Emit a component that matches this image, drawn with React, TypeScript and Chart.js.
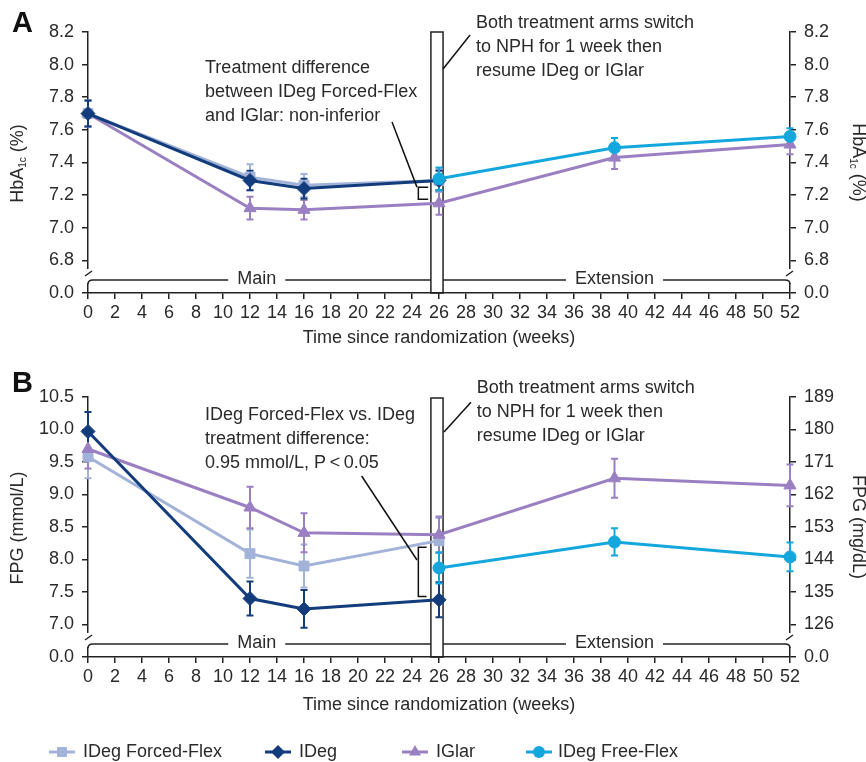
import React, { useEffect, useRef } from 'react';
import { Chart, registerables } from 'chart.js';

Chart.register(...registerables);

const FF = '"Liberation Sans", Arial, Helvetica, sans-serif';
const TXT = '#2a2a2a';
const AXIS = '#222222';

// ---------- data ----------
const weeksMain = [0, 12, 16, 26];
const weeksIGlar = [0, 12, 16, 26, 39, 52];
const weeksFreeFlex = [26, 39, 52];
const xTickValues = [0, 2, 4, 6, 8, 10, 12, 14, 16, 18, 20, 22, 24, 26, 28, 30, 32, 34, 36, 38, 40, 42, 44, 46, 48, 50, 52];

const hba1cTickValues = [6.6, 6.8, 7.0, 7.2, 7.4, 7.6, 7.8, 8.0, 8.2];
const hba1cTickLabels = ['0.0', '6.8', '7.0', '7.2', '7.4', '7.6', '7.8', '8.0', '8.2'];
const fpgTickValues = [6.5, 7.0, 7.5, 8.0, 8.5, 9.0, 9.5, 10.0, 10.5];
const fpgTickLabels = ['0.0', '7.0', '7.5', '8.0', '8.5', '9.0', '9.5', '10.0', '10.5'];
const fpgMgTickLabels = ['0.0', '126', '135', '144', '153', '162', '171', '180', '189'];

const hba1cForcedFlex = [7.70, 7.31, 7.26, 7.29];
const hba1cForcedFlexErr = [0.08, 0.08, 0.07, 0.07];
const hba1cIDeg = [7.70, 7.29, 7.24, 7.29];
const hba1cIDegErr = [0.08, 0.06, 0.06, 0.06];
const hba1cIGlar = [7.70, 7.12, 7.11, 7.15, 7.43, 7.51];
const hba1cIGlarErr = [0.08, 0.07, 0.06, 0.07, 0.07, 0.06];
const hba1cFreeFlex = [7.30, 7.49, 7.56];
const hba1cFreeFlexErr = [0.07, 0.06, 0.05];

const fpgForcedFlex = [9.58, 8.09, 7.90, 8.29];
const fpgForcedFlexErr = [0.33, 0.37, 0.33, 0.35];
const fpgIDeg = [9.97, 7.40, 7.24, 7.38];
const fpgIDegErr = [0.30, 0.26, 0.29, 0.27];
const fpgIGlar = [9.70, 8.80, 8.41, 8.38, 9.25, 9.14];
const fpgIGlarErr = [0.30, 0.32, 0.30, 0.28, 0.30, 0.32];
const fpgFreeFlex = [7.87, 8.27, 8.04];
const fpgFreeFlexErr = [0.24, 0.21, 0.22];

const seriesNames = ['IDeg Forced-Flex', 'IDeg', 'IGlar', 'IDeg Free-Flex'];
const seriesColors = ['#a2b2d8', '#123c7c', '#9a80c2', '#14a7dd'];
const seriesStyles = ['rect', 'rectRot', 'triangle', 'circle'];
const seriesRadius = [7, 7, 7, 6];

const switchStart = 25.4;
const switchEnd = 26.3;

// ---------- helpers ----------
function makeDataset(idx: number, weeks: number[], values: number[], errors: number[]) {
  const c = seriesColors[idx];
  return {
    label: seriesNames[idx],
    data: weeks.map((w, i) => ({ x: w, y: values[i] })),
    errors,
    yAxisID: 'y',
    borderColor: c,
    backgroundColor: c,
    pointBackgroundColor: c,
    pointBorderColor: c,
    pointStyle: seriesStyles[idx],
    pointRadius: seriesRadius[idx],
    pointHoverRadius: seriesRadius[idx],
    pointBorderWidth: 1,
    borderWidth: 3,
    tension: 0,
    clip: false,
  };
}

function drawMarker(ctx: CanvasRenderingContext2D, style: string, x: number, y: number, r: number, color: string) {
  ctx.save();
  ctx.fillStyle = color;
  ctx.beginPath();
  if (style === 'rect') {
    const s = r * Math.SQRT1_2;
    ctx.rect(x - s, y - s, 2 * s, 2 * s);
  } else if (style === 'rectRot') {
    ctx.moveTo(x, y - r);
    ctx.lineTo(x + r, y);
    ctx.lineTo(x, y + r);
    ctx.lineTo(x - r, y);
    ctx.closePath();
  } else if (style === 'triangle') {
    for (let k = 0; k < 3; k++) {
      const a = (k * 2 * Math.PI) / 3;
      const px = x + Math.sin(a) * r;
      const py = y - Math.cos(a) * r;
      if (k === 0) ctx.moveTo(px, py); else ctx.lineTo(px, py);
    }
    ctx.closePath();
  } else {
    ctx.arc(x, y, r, 0, Math.PI * 2);
  }
  ctx.fill();
  ctx.restore();
}

type Part = [string, number];

function drawRotatedTitle(ctx: CanvasRenderingContext2D, parts: Part[], cx: number, cy: number, angle: number) {
  ctx.save();
  ctx.translate(cx, cy);
  ctx.rotate(angle);
  ctx.fillStyle = TXT;
  ctx.textBaseline = 'middle';
  ctx.textAlign = 'left';
  let total = 0;
  for (const [t, sub] of parts) {
    ctx.font = `${sub ? 10 : 18}px ${FF}`;
    total += ctx.measureText(t).width;
  }
  let x = -total / 2;
  for (const [t, sub] of parts) {
    ctx.font = `${sub ? 10 : 18}px ${FF}`;
    ctx.fillText(t, x, sub ? 5 : 0);
    x += ctx.measureText(t).width;
  }
  ctx.restore();
}

function line(ctx: CanvasRenderingContext2D, x1: number, y1: number, x2: number, y2: number) {
  ctx.beginPath();
  ctx.moveTo(x1, y1);
  ctx.lineTo(x2, y2);
  ctx.stroke();
}

function makePanelPlugin(p: any) {
  return {
    id: 'panel' + p.letter,
    beforeDatasetsDraw(chart: any) {
      const ctx = chart.ctx as CanvasRenderingContext2D;
      const xs = chart.scales.x;
      const ys = chart.scales.y;
      const ca = chart.chartArea;
      ctx.save();
      // switch rectangle
      const rx1 = xs.getPixelForValue(switchStart);
      const rx2 = xs.getPixelForValue(switchEnd);
      ctx.strokeStyle = AXIS;
      ctx.lineWidth = 1.5;
      ctx.strokeRect(rx1, ca.top + p.rectTopOffset, rx2 - rx1, ca.bottom - ca.top - p.rectTopOffset);
      // error bars
      const ds = chart.data.datasets;
      for (let di = ds.length - 1; di >= 0; di--) {
        const d = ds[di];
        const meta = chart.getDatasetMeta(di);
        ctx.strokeStyle = d.borderColor;
        ctx.lineWidth = 2;
        meta.data.forEach((pt: any, i: number) => {
          const v = d.data[i].y;
          const e = d.errors[i];
          const t = ys.getPixelForValue(v + e);
          const b = ys.getPixelForValue(v - e);
          ctx.beginPath();
          ctx.moveTo(pt.x, t);
          ctx.lineTo(pt.x, b);
          ctx.moveTo(pt.x - 3.5, t);
          ctx.lineTo(pt.x + 3.5, t);
          ctx.moveTo(pt.x - 3.5, b);
          ctx.lineTo(pt.x + 3.5, b);
          ctx.stroke();
        });
      }
      ctx.restore();
    },
    afterDraw(chart: any) {
      const ctx = chart.ctx as CanvasRenderingContext2D;
      const xs = chart.scales.x;
      const ys = chart.scales.y;
      const ca = chart.chartArea;
      const X = (w: number) => xs.getPixelForValue(w);
      const Y = (v: number) => ys.getPixelForValue(v);
      const L = ca.left;
      const R = ca.right;
      const B = ca.bottom;
      ctx.save();

      // axis breaks
      ctx.fillStyle = '#ffffff';
      ctx.fillRect(L - 3, B - 24, 6, 14);
      ctx.fillRect(R - 3, B - 24, 6, 14);
      ctx.strokeStyle = AXIS;
      ctx.lineWidth = 1.5;
      line(ctx, L - 3, B - 17, L + 4, B - 22);
      line(ctx, R - 4, B - 17, R + 3, B - 22);
      const my = B - 13;
      ctx.beginPath();
      ctx.moveTo(L, B - 9);
      ctx.quadraticCurveTo(L, my, L + 5, my);
      ctx.stroke();
      ctx.beginPath();
      ctx.moveTo(R - 5, my);
      ctx.quadraticCurveTo(R, my, R, B - 9);
      ctx.stroke();

      // main / extension
      ctx.font = `18px ${FF}`;
      ctx.fillStyle = TXT;
      ctx.textBaseline = 'middle';
      ctx.textAlign = 'center';
      const rx1 = X(switchStart);
      const rx2 = X(switchEnd);
      const mcx = X(12.5);
      const mw = ctx.measureText('Main').width;
      ctx.fillText('Main', mcx, my - 1);
      line(ctx, L + 5, my, mcx - mw / 2 - 9, my);
      line(ctx, mcx + mw / 2 + 9, my, rx1, my);
      const ecx = X(39);
      const ew = ctx.measureText('Extension').width;
      ctx.fillText('Extension', ecx, my - 1);
      line(ctx, rx2, my, ecx - ew / 2 - 9, my);
      line(ctx, ecx + ew / 2 + 9, my, R - 5, my);

      // annotations
      ctx.textAlign = 'left';
      ctx.textBaseline = 'alphabetic';
      const dx = X(p.diffAt[0]);
      const dy = Y(p.diffAt[1]);
      p.diffLines.forEach((t: string, i: number) => ctx.fillText(t, dx, dy + i * 24));
      const sx = X(p.switchAt[0]);
      const sy = Y(p.switchAt[1]);
      p.switchLines.forEach((t: string, i: number) => ctx.fillText(t, sx, sy + i * 24));
      ctx.lineWidth = 1.5;
      ctx.strokeStyle = '#111';
      line(ctx, X(p.diffLeader[0][0]), Y(p.diffLeader[0][1]), X(p.diffLeader[1][0]), Y(p.diffLeader[1][1]));
      line(ctx, X(p.switchLeader[0][0]), Y(p.switchLeader[0][1]), X(p.switchLeader[1][0]), Y(p.switchLeader[1][1]));
      const [bx1, bx2, by1, by2] = p.bracket;
      ctx.beginPath();
      ctx.moveTo(X(bx2), Y(by1));
      ctx.lineTo(X(bx1), Y(by1));
      ctx.lineTo(X(bx1), Y(by2));
      ctx.lineTo(X(bx2), Y(by2));
      ctx.stroke();

      // panel letter
      ctx.font = `bold 29px ${FF}`;
      ctx.fillStyle = '#111';
      ctx.fillText(p.letter, 12, p.letterBaseline);

      // axis titles
      const cy = (ca.top + ca.bottom) / 2;
      drawRotatedTitle(ctx, p.leftTitle, 18, cy + 1, -Math.PI / 2);
      drawRotatedTitle(ctx, p.rightTitle, 858, cy, Math.PI / 2);
      ctx.font = `18px ${FF}`;
      ctx.fillStyle = TXT;
      ctx.textAlign = 'center';
      ctx.textBaseline = 'middle';
      ctx.fillText('Time since randomization (weeks)', (L + R) / 2, p.xTitleY);

      // legend
      if (p.legend) {
        const ly = p.legendY;
        const markX = [62, 278, 415, 539];
        const textX = [83, 299, 436, 558];
        ctx.textAlign = 'left';
        for (let i = 0; i < seriesNames.length; i++) {
          ctx.strokeStyle = seriesColors[i];
          ctx.lineWidth = 3;
          line(ctx, markX[i] - 13, ly, markX[i] + 13, ly);
          drawMarker(ctx, seriesStyles[i], markX[i], ly, seriesRadius[i], seriesColors[i]);
          ctx.fillStyle = TXT;
          ctx.fillText(seriesNames[i], textX[i], ly);
        }
      }
      ctx.restore();
    },
  };
}

function buildOptions(padTop: number, padBottom: number, yVals: number[], yLabels: string[], y2Labels: string[]) {
  const tickFont = { family: FF, size: 18 };
  const yMin = yVals[0];
  const yMax = yVals[yVals.length - 1];
  const yAxis = (pos: string, labels: string[], width: number) => ({
    type: 'linear',
    position: pos,
    min: yMin,
    max: yMax,
    afterBuildTicks: (s: any) => {
      s.ticks = yVals.map((v) => ({ value: v }));
    },
    ticks: {
      autoSkip: false,
      font: tickFont,
      color: TXT,
      padding: 8,
      callback: (_v: any, i: number) => labels[i],
    },
    grid: { drawOnChartArea: false, drawTicks: true, tickLength: 6, color: AXIS, lineWidth: 1.5 },
    border: { color: AXIS, width: 1.5 },
    afterFit: (s: any) => {
      s.width = width;
    },
  });
  return {
    animation: false,
    responsive: false,
    maintainAspectRatio: false,
    events: [],
    layout: { padding: { top: padTop, bottom: padBottom, left: 0, right: 0 } },
    plugins: { legend: { display: false }, tooltip: { enabled: false }, title: { display: false } },
    scales: {
      x: {
        type: 'linear',
        min: 0,
        max: 52,
        afterBuildTicks: (s: any) => {
          s.ticks = xTickValues.map((v) => ({ value: v }));
        },
        ticks: {
          autoSkip: false,
          maxRotation: 0,
          minRotation: 0,
          font: tickFont,
          color: TXT,
          padding: 3,
          callback: (v: any) => String(v),
        },
        grid: { drawOnChartArea: false, drawTicks: true, tickLength: 6, color: AXIS, lineWidth: 1.5 },
        border: { color: AXIS, width: 1.5 },
        afterFit: (s: any) => {
          s.height = 57;
        },
      },
      y: yAxis('left', yLabels, 88),
      y2: yAxis('right', y2Labels, 76),
    },
  };
}

const panelA = {
  letter: 'A',
  letterBaseline: 32,
  rectTopOffset: 0,
  leftTitle: [['HbA', 0], ['1c', 1], [' (%)', 0]],
  rightTitle: [['HbA', 0], ['1c', 1], [' (%)', 0]],
  xTitleY: 338,
  diffLines: ['Treatment difference', 'between IDeg Forced-Flex', 'and IGlar: non-inferior'],
  diffAt: [8.67, 7.948],
  diffLeader: [[22.52, 7.648], [24.37, 7.249]],
  bracket: [24.47, 25.2, 7.249, 7.174],
  switchLines: ['Both treatment arms switch', 'to NPH for 1 week then', 'resume IDeg or IGlar'],
  switchAt: [28.74, 8.225],
  switchLeader: [[26.3, 7.973], [28.3, 8.182]],
  legend: false,
  legendY: 0,
};

const panelB = {
  letter: 'B',
  letterBaseline: 42,
  rectTopOffset: 1,
  leftTitle: [['FPG (mmol/L)', 0]],
  rightTitle: [['FPG (mg/dL)', 0]],
  xTitleY: 355,
  diffLines: ['IDeg Forced-Flex vs. IDeg', 'treatment difference:', '0.95 mmol/L, P\u2009<\u20090.05'],
  diffAt: [8.67, 10.146],
  diffLeader: [[20.27, 9.285], [24.37, 7.992]],
  bracket: [24.47, 25.08, 8.19, 7.43],
  switchLines: ['Both treatment arms switch', 'to NPH for 1 week then', 'resume IDeg or IGlar'],
  switchAt: [28.8, 10.56],
  switchLeader: [[26.37, 9.96], [28.37, 10.42]],
  legend: true,
  legendY: 402,
};

export default function App() {
  const refA = useRef<HTMLCanvasElement>(null);
  const refB = useRef<HTMLCanvasElement>(null);

  useEffect(() => {
    const chartA = new Chart(refA.current as HTMLCanvasElement, {
      type: 'line',
      data: {
        datasets: [
          makeDataset(3, weeksFreeFlex, hba1cFreeFlex, hba1cFreeFlexErr),
          makeDataset(1, weeksMain, hba1cIDeg, hba1cIDegErr),
          makeDataset(0, weeksMain, hba1cForcedFlex, hba1cForcedFlexErr),
          makeDataset(2, weeksIGlar, hba1cIGlar, hba1cIGlarErr),
        ] as any,
      },
      options: buildOptions(32, 0, hba1cTickValues, hba1cTickLabels, hba1cTickLabels) as any,
      plugins: [makePanelPlugin(panelA)],
    });
    const chartB = new Chart(refB.current as HTMLCanvasElement, {
      type: 'line',
      data: {
        datasets: [
          makeDataset(3, weeksFreeFlex, fpgFreeFlex, fpgFreeFlexErr),
          makeDataset(1, weeksMain, fpgIDeg, fpgIDegErr),
          makeDataset(2, weeksIGlar, fpgIGlar, fpgIGlarErr),
          makeDataset(0, weeksMain, fpgForcedFlex, fpgForcedFlexErr),
        ] as any,
      },
      options: buildOptions(47, 48, fpgTickValues, fpgTickLabels, fpgMgTickLabels) as any,
      plugins: [makePanelPlugin(panelB)],
    });
    return () => {
      chartA.destroy();
      chartB.destroy();
    };
  }, []);

  return (
    <div style={{ position: 'fixed', left: 0, top: 0, width: 866, height: 762, background: '#ffffff' }}>
      <canvas ref={refA} width={866} height={350} style={{ display: 'block', width: 866, height: 350 }} />
      <canvas ref={refB} width={866} height={412} style={{ display: 'block', width: 866, height: 412 }} />
    </div>
  );
}
